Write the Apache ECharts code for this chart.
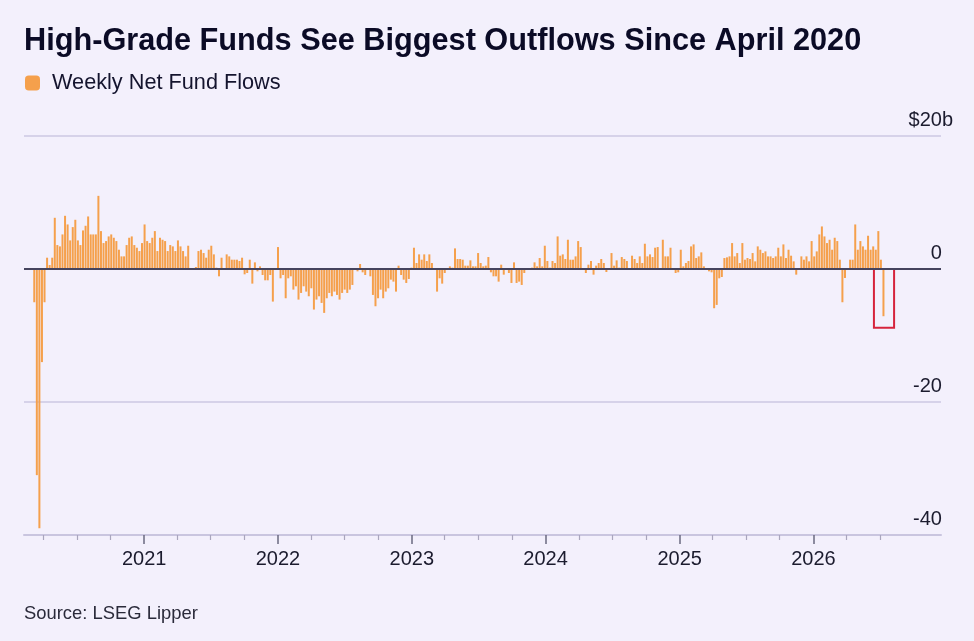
<!DOCTYPE html>
<html><head><meta charset="utf-8">
<script src="https://cdn.jsdelivr.net/npm/echarts@6/dist/echarts.min.js"></script>
<style>html,body{margin:0;padding:0;background:#f3f0fc;} #chart{width:974px;height:641px;}</style>
</head><body><div id="chart"></div>
<script>
// ---- data (weekly net flows, $b) ----
const firstWeek = '2020-03-07';
const flows2020 = [-5, -31, -39, -14, -5, 1.7, 0.6, 1.7, 7.7, 3.6, 3.4, 5.2, 8.0, 6.7, 4.3, 6.3, 7.4, 4.3, 3.6, 5.8, 6.5, 7.9, 5.2, 5.2, 5.2, 11.0, 5.7, 3.9, 4.2, 4.9, 5.2, 4.7, 4.2, 2.9, 1.9, 1.9, 3.6, 4.7, 4.9, 3.6, 3.2, 2.7, 3.9];
const flows2021 = [6.7, 4.2, 3.9, 4.7, 5.7, 2.7, 4.7, 4.4, 4.2, 2.7, 3.6, 3.4, 2.7, 4.3, 3.4, 2.7, 1.9, 3.5, 0, 0, 0.3, 2.7, 2.9, 2.4, 1.7, 2.9, 3.5, 2.2, 0.2, -1.1, 1.7, 0, 2.2, 1.9, 1.4, 1.4, 1.4, 1.2, 1.7, -0.8, -0.6, 1.4, -2.2, 1.0, -0.35, 0.4, -0.9, -1.7, -1.7, -0.9, -4.9, 0];
const flows2022 = [3.3, -1.4, -0.9, -4.4, -1.4, -1.1, -3.1, -2.6, -4.6, -3.6, -2.6, -3.4, -4.1, -2.9, -6.1, -4.6, -4.1, -5.1, -6.6, -4.4, -3.6, -4.1, -3.4, -3.9, -4.6, -3.6, -3.1, -3.6, -3.1, -2.4, 0, -0.35, 0.75, -0.5, -0.9, 0, -1.1, -3.9, -5.6, -4.4, -3.1, -4.4, -3.4, -2.9, -1.6, -1.9, -3.4, 0.5, -0.9, -1.6, -2.1, -1.5, 0.2];
const flows2023 = [3.2, 0.9, 2.2, 1.4, 2.2, 1.2, 2.2, 0.9, 0, -3.4, -1.4, -2.2, -0.6, 0, 0.4, 0.2, 3.1, 1.5, 1.5, 1.4, 0.5, 0.5, 1.3, 0.4, 0.4, 2.4, 0.9, 0.4, 0.5, 1.8, -0.5, -1.1, -1.1, -1.9, 0.65, -0.85, 0, -0.6, -2.1, 1.0, -2.1, -1.9, -2.4, -0.6, 0, 0, 0.2, 1.0, 0.4, 1.65, 0.4, 3.5];
const flows2024 = [1.2, 0.2, 1.2, 0.9, 4.9, 2.0, 2.2, 1.5, 4.4, 1.4, 1.4, 1.9, 4.2, 3.3, 0, -0.6, 0.65, 1.2, -0.85, 0.5, 0.9, 1.5, 0.9, -0.45, 0, 2.4, 0.5, 1.3, 0.2, 1.8, 1.5, 1.2, 0.15, 2.0, 1.5, 0.9, 1.9, 0.9, 3.8, 1.9, 2.2, 1.8, 3.2, 3.3, 0, 4.4, 1.9, 1.9, 3.2, 0.15, -0.6, -0.5];
const flows2025 = [2.9, 0.4, 0.9, 1.2, 3.4, 3.7, 1.65, 1.9, 2.5, 0.4, 0, -0.35, -0.5, -5.9, -5.4, -1.4, -1.2, 1.65, 1.75, 1.9, 3.9, 1.9, 2.4, 0.9, 3.9, 1.4, 1.65, 1.5, 2.4, 1.15, 3.4, 2.9, 2.4, 2.65, 1.9, 1.9, 1.65, 1.9, 3.2, 1.9, 3.7, 1.65, 2.9, 2.0, 1.15, -0.85, 0, 1.9, 1.4, 1.9, 1.15, 4.2];
const flows2026 = [1.9, 2.65, 5.2, 6.4, 4.9, 3.9, 4.4, 2.9, 4.7, 4.2, 1.4, -5.0, -1.35, 0, 1.4, 1.4, 6.7, 2.9, 4.2, 3.4, 2.9, 5.0, 2.9, 3.4, 2.9, 5.7, 1.4, -7.1];

const yearTicks = ['2021-01-01', '2022-01-01', '2023-01-01', '2024-01-01', '2025-01-01', '2026-01-01'];
const quarterTicks = ['2020-04-01','2020-07-01','2020-10-01',
  '2021-04-01','2021-07-01','2021-10-01','2022-04-01','2022-07-01','2022-10-01',
  '2023-04-01','2023-07-01','2023-10-01','2024-04-01','2024-07-01','2024-10-01',
  '2025-04-01','2025-07-01','2025-10-01','2026-04-01','2026-07-01'];
const axisStart = '2020-02-08';
const axisEnd = '2026-12-15';
const highlightFrom = '2026-06-15';
const highlightTo = '2026-08-09';
const highlightLow = -8.85;

// ---- build ----
const ts = s => Date.parse(s + 'T00:00:00Z');
const DAY = 86400000;
const flows = [].concat(flows2020, flows2021, flows2022, flows2023, flows2024, flows2025, flows2026);
const t0 = ts(firstWeek);
const seriesData = flows.map((v, i) => [t0 + i * 7 * DAY, v]);

const FONT = 'Liberation Sans, Arial, sans-serif';
const chart = echarts.init(document.getElementById('chart'), null, {renderer: 'canvas'});
chart.setOption({
  animation: false,
  backgroundColor: '#f3f0fc',
  title: [
    {text: 'High-Grade Funds See Biggest Outflows Since April 2020', left: 24, top: 26, padding: 0,
     textStyle: {fontFamily: FONT, fontSize: 30.7, fontWeight: 'bold', color: '#0b0b26'}},
    {text: 'Source: LSEG Lipper', left: 24, top: 605, padding: 0,
     textStyle: {fontFamily: FONT, fontSize: 18.4, fontWeight: 'normal', color: '#2a2a3a'}}
  ],
  legend: {
    left: 25, top: 72, padding: 0, icon: 'roundRect', itemWidth: 15, itemHeight: 15, itemGap: 20,
    textStyle: {fontFamily: FONT, fontSize: 21.7, color: '#14142e', padding: [0, 0, 0, 7]},
    data: ['Weekly Net Fund Flows']
  },
  grid: {left: 24, right: 33, top: 136, bottom: 106},
  xAxis: [
    {type: 'value', min: ts(axisStart), max: ts(axisEnd), position: 'bottom',
     axisLine: {onZero: false, lineStyle: {color: '#c9c5df', width: 2}},
     axisTick: {show: true, length: 9, customValues: yearTicks.map(ts), lineStyle: {color: '#6b6a80', width: 1.5}},
     axisLabel: {customValues: yearTicks.map(ts), formatter: v => String(new Date(v).getUTCFullYear()),
                 fontFamily: FONT, fontSize: 20, color: '#1b1b2e', margin: 14},
     splitLine: {show: false}},
    {type: 'value', min: ts(axisStart), max: ts(axisEnd), position: 'bottom', gridIndex: 0,
     axisLine: {show: false, onZero: false},
     axisTick: {show: true, length: 5, customValues: quarterTicks.map(ts), lineStyle: {color: '#a9a6bd', width: 1.2}},
     axisLabel: {show: false}, splitLine: {show: false}}
  ],
  yAxis: {
    type: 'value', position: 'right', min: -40, max: 20, interval: 20,
    axisLine: {show: false}, axisTick: {show: false},
    splitLine: {show: true, lineStyle: {color: '#cdc9e3', width: 1.5}},
    axisLabel: {inside: true, margin: -12, verticalAlign: 'bottom', padding: [0, 0, 6, 0],
      fontFamily: FONT, fontSize: 20, color: '#1b1b2e',
      formatter: v => v === 20 ? '$20b' : v + '{h|b}',
      rich: {h: {color: 'rgba(0,0,0,0)', fontFamily: FONT, fontSize: 20}}}
  },
  series: [{
    name: 'Weekly Net Fund Flows', type: 'bar', xAxisIndex: 0, data: seriesData,
    barWidth: 2, itemStyle: {color: '#f5a04c'},
    markLine: {silent: true, symbol: ['none', 'none'], label: {show: false},
      lineStyle: {color: '#45445e', width: 2, type: 'solid'}, data: [{yAxis: 0}]},
    markArea: {silent: true, label: {show: false},
      itemStyle: {color: 'rgba(0,0,0,0)', borderColor: '#d6243c', borderWidth: 2},
      data: [[{xAxis: ts(highlightFrom), yAxis: 0}, {xAxis: ts(highlightTo), yAxis: highlightLow}]]}
  }]
});
</script></body></html>
